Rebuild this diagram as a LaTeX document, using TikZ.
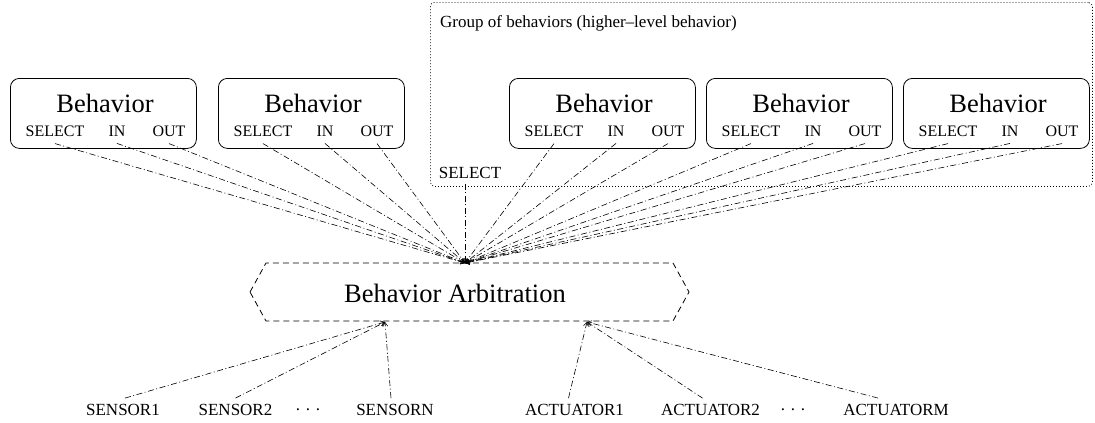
\documentclass[tikz,border=0pt]{standalone}
\usepackage{fontspec}
\setmainfont{Liberation Serif}
\usetikzlibrary{arrows.meta}
\begin{document}
\begin{tikzpicture}[x=1pt,y=-1pt,
  behbox/.style={draw, rounded corners=9pt, minimum width=186pt, minimum height=70pt, line width=0.8pt, anchor=north west},
  title/.style={font=\fontsize{26.5}{30}\selectfont, inner sep=0pt},
  port/.style={font=\fontsize{16}{19}\selectfont, inner sep=0pt},
  lbl/.style={font=\fontsize{17}{20}\selectfont, inner sep=0pt},
  link/.style={line width=0.6pt, dash pattern=on 6pt off 2.5pt on 1pt off 2.5pt,
    -{Straight Barb[length=4pt,width=5pt,line width=0.5pt]}},
  arbline/.style={line width=0.8pt, dash pattern=on 6pt off 4pt},
  grpline/.style={line width=0.8pt, dash pattern=on 0.8pt off 2.2pt, rounded corners=4pt},
]
\useasboundingbox (0,0) rectangle (1095,423);

% group of behaviors forming a higher-level behavior
\node[draw, grpline, minimum width=662pt, minimum height=184pt, anchor=north west, inner sep=0pt] (grp) at (430,2) {};
\node[font=\fontsize{17}{20}\selectfont, anchor=west, inner sep=0pt] (grplbl) at (440,23) {Group of behaviors (higher–level behavior)};
\node[lbl] (sel) at (470,173) {SELECT};

% arbitration block
\node[title] (arb) at (455,293) {Behavior Arbitration};
\draw[arbline] (250,292) -- (266,263) -- (673,263) -- (689,292) -- (673,321) -- (266,321) -- cycle;
\coordinate (hub) at (465,263);
\coordinate (shub) at (385,322);
\coordinate (ahub) at (587,322);

% behaviors with their ports
\foreach \i/\x in {1/10,2/218,3/509,4/706,5/903} {
  \node[behbox] (b\i) at (\x,78) {};
  \node[title] (b\i t) at (\x+95,103) {Behavior};
  \node[port] (b\i s) at (\x+45,131) {SELECT};
  \node[port] (b\i i) at (\x+107,131) {IN};
  \node[port] (b\i o) at (\x+159,131) {OUT};
  \draw[link] ([yshift=-7pt]b\i s.south) -- (hub);
  \draw[link] ([yshift=-7pt]b\i i.south) -- (hub);
  \draw[link] ([yshift=-7pt]b\i o.south) -- (hub);
}
\draw[link] ([yshift=-5pt]sel.south -| hub) -- (hub);

% sensors
\node[lbl] (s1) at (123,410) {SENSOR1};
\node[lbl] (s2) at (235.5,410) {SENSOR2};
\node[lbl] (sd) at (308,410) {.\,\,.\,\,.};
\node[lbl] (sn) at (395,410) {SENSORN};
\draw[link] ([xshift=2pt,yshift=6pt]s1.north) -- (shub);
\draw[link] ([yshift=6pt]s2.north) -- (shub);
\draw[link] ([xshift=-4pt,yshift=6pt]sn.north) -- (shub);

% actuators
\node[lbl] (a1) at (574.5,410) {ACTUATOR1};
\node[lbl] (a2) at (710.5,410) {ACTUATOR2};
\node[lbl] (ad) at (793,410) {.\,\,.\,\,.};
\node[lbl] (am) at (896,410) {ACTUATORM};
\draw[link] ([xshift=-6pt,yshift=6pt]a1.north) -- (ahub);
\draw[link] ([xshift=-8pt,yshift=6pt]a2.north) -- (ahub);
\draw[link] ([xshift=-18pt,yshift=6pt]am.north) -- (ahub);
\end{tikzpicture}
\end{document}
